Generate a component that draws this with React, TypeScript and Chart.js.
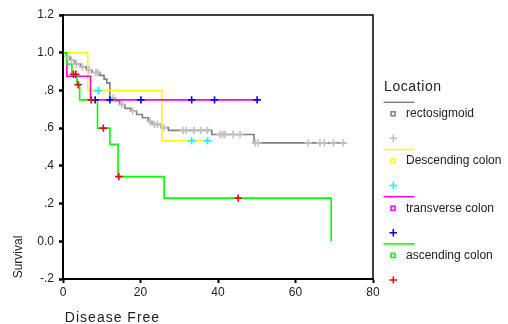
import React, { useEffect, useRef } from "react";
import { Chart, registerables } from "chart.js";

Chart.register(...registerables);

// ---------- data ----------
const groupNames = ["rectosigmoid", "Descending colon", "transverse colon", "ascending colon"];
const legendTitle = "Location";
const xTitle = "Disease Free";
const yTitle = "Survival";
const xTickValues = [0, 20, 40, 60, 80];
const yTickValues = [-0.2, 0, 0.2, 0.4, 0.6, 0.8, 1.0, 1.2];

// rectosigmoid
const rectoTimes = [0, 0.8, 1.8, 3.0, 4.5, 6.0, 7.5, 9.5, 10.6, 11.3, 12.1, 13.4, 14.6, 16.0, 17.5, 19.0, 20.5, 22.0, 23.0, 25.3, 27.2, 38.4, 49.3, 72.8];
const rectoSurv = [1, 0.98, 0.96, 0.94, 0.925, 0.91, 0.895, 0.88, 0.86, 0.84, 0.76, 0.745, 0.725, 0.705, 0.69, 0.672, 0.655, 0.635, 0.62, 0.603, 0.588, 0.566, 0.522, 0.522];
const rectoCensor = [1.2, 2.2, 3.5, 5.0, 6.7, 8.5, 9.0, 13.0, 15.2, 18.0, 22.5, 23.6, 24.4, 26.0, 31.0, 31.8, 33.8, 35.6, 37.3, 40.5, 41.2, 41.8, 43.9, 45.7, 49.6, 50.3, 63.3, 66.3, 67.4, 69.8, 72.3];

// Descending colon
const descTimes = [0, 6.4, 25.5, 37.9];
const descSurv = [1, 0.8, 0.533, 0.533];
const descCensor = [9.1, 33.2, 37.3];

// transverse colon
const transTimes = [0, 1.0, 7.1, 50.5];
const transSurv = [1, 0.875, 0.75, 0.75];
const transCensor = [8.3, 12.1, 20.1, 33.2, 39.1, 50.1];

// ascending colon
const ascTimes = [0, 1.0, 2.3, 3.6, 4.3, 8.9, 12.1, 14.2, 26.1, 69.2];
const ascSurv = [1, 0.94, 0.886, 0.83, 0.75, 0.6, 0.514, 0.343, 0.229, 0];
const ascCensor = [2.7, 3.3, 3.9, 7.3, 10.4, 14.4, 45.2];

// ---------- styles ----------
const FONT = "'Liberation Sans', Arial, sans-serif";
const lineColors = ["#808080", "#ffff00", "#ff00ff", "#00ff00"];
const censorColors = ["#c0c0c0", "#00ffff", "#0000ff", "#ff0000"];

const curves = [
  { times: rectoTimes, surv: rectoSurv, censor: rectoCensor },
  { times: descTimes, surv: descSurv, censor: descCensor },
  { times: transTimes, surv: transSurv, censor: transCensor },
  { times: ascTimes, surv: ascSurv, censor: ascCensor },
];

function levelAt(times: number[], surv: number[], t: number) {
  let v = surv[0];
  for (let i = 0; i < times.length; i++) if (times[i] <= t) v = surv[i];
  return v;
}

function fmtY(v: number) {
  const r = Math.round(v * 10) / 10;
  if (r === 0) return "0.0";
  if (Math.abs(r) >= 1) return r.toFixed(1);
  const s = Math.abs(r).toFixed(1).replace(/^0/, "");
  return (r < 0 ? "-" : "") + s;
}

const decorPlugin = {
  id: "decor",
  afterDraw(chart: any) {
    const ctx = chart.ctx as CanvasRenderingContext2D;
    const a = chart.chartArea;
    ctx.save();
    ctx.strokeStyle = "#000";
    ctx.lineWidth = 1.5;
    ctx.strokeRect(a.left, a.top, a.right - a.left, a.bottom - a.top);

    ctx.fillStyle = "#222";
    ctx.textBaseline = "middle";
    ctx.textAlign = "center";
    ctx.font = `12px ${FONT}`;
    ctx.save();
    ctx.translate(18.5, 257);
    ctx.rotate(-Math.PI / 2);
    ctx.fillText(yTitle, 0, 0);
    ctx.restore();

    ctx.font = `14px ${FONT}`;
    (ctx as any).letterSpacing = "1px";
    ctx.fillText(xTitle, 112.5, 318);
    (ctx as any).letterSpacing = "0.6px";
    ctx.textAlign = "left";
    ctx.fillText(legendTitle, 384, 87.5);
    (ctx as any).letterSpacing = "0px";

    ctx.font = `12px ${FONT}`;
    for (let i = 0; i < groupNames.length; i++) {
      const y0 = 102.3 + 47.2 * i;
      ctx.strokeStyle = lineColors[i];
      ctx.lineWidth = 1.5;
      ctx.beginPath();
      ctx.moveTo(383.5, y0);
      ctx.lineTo(414.5, y0);
      ctx.stroke();
      ctx.strokeRect(391, y0 + 9.5, 4, 4);
      ctx.fillStyle = "#222";
      ctx.fillText(groupNames[i], 406, y0 + 11.5);
      ctx.strokeStyle = censorColors[i];
      ctx.beginPath();
      ctx.moveTo(389.5, y0 + 36);
      ctx.lineTo(397, y0 + 36);
      ctx.moveTo(393.3, y0 + 32.3);
      ctx.lineTo(393.3, y0 + 39.7);
      ctx.stroke();
    }
    ctx.restore();
  },
};

export default function App() {
  const ref = useRef<HTMLCanvasElement | null>(null);
  useEffect(() => {
    if (!ref.current) return;
    const censorSets: any[] = [];
    const lineSets: any[] = [];
    for (let i = curves.length - 1; i >= 0; i--) {
      const c = curves[i];
      censorSets.push({
        type: "scatter",
        data: c.censor.map((t) => ({ x: t, y: levelAt(c.times, c.surv, t) })),
        showLine: false,
        pointStyle: "cross",
        pointRadius: 3.7,
        pointBorderWidth: 1.6,
        borderColor: censorColors[i],
        backgroundColor: censorColors[i],
      });
      lineSets.push({
        type: "line",
        data: c.times.map((t, k) => ({ x: t, y: c.surv[k] })),
        stepped: "before",
        borderColor: lineColors[i],
        borderWidth: 1.6,
        pointRadius: 0,
        fill: false,
      });
    }
    const tickFont = { family: FONT, size: 12 };
    const chart = new Chart(ref.current, {
      type: "scatter",
      data: { datasets: [...censorSets, ...lineSets] },
      plugins: [decorPlugin],
      options: {
        animation: false,
        responsive: false,
        devicePixelRatio: 1,
        layout: { padding: { left: 0, top: 15, right: 135, bottom: 0 } },
        plugins: { legend: { display: false }, tooltip: { enabled: false } },
        scales: {
          x: {
            type: "linear",
            min: 0,
            max: 80,
            afterBuildTicks: (s: any) => {
              s.ticks = xTickValues.map((v) => ({ value: v }));
            },
            afterFit: (s: any) => {
              s.height = 45;
            },
            ticks: { font: tickFont, color: "#222", padding: 2, maxRotation: 0 },
            grid: { display: true, drawOnChartArea: false, drawTicks: true, tickLength: 4, tickWidth: 2, color: "#000" },
            border: { display: true, color: "#000", width: 2 },
          },
          y: {
            type: "linear",
            min: -0.2,
            max: 1.2,
            afterBuildTicks: (s: any) => {
              s.ticks = yTickValues.map((v) => ({ value: v }));
            },
            afterFit: (s: any) => {
              s.width = 63;
            },
            ticks: { font: tickFont, color: "#222", padding: 5, callback: (v: any) => fmtY(Number(v)) },
            grid: { display: true, drawOnChartArea: false, drawTicks: true, tickLength: 4, tickWidth: 2.5, color: "#000" },
            border: { display: true, color: "#000", width: 2 },
          },
        },
      } as any,
    });
    return () => chart.destroy();
  }, []);
  return (
    <div style={{ position: "fixed", left: 0, top: 0, width: 508, height: 324, background: "#fff" }}>
      <canvas ref={ref} width={508} height={324} style={{ width: 508, height: 324, display: "block" }} />
    </div>
  );
}
